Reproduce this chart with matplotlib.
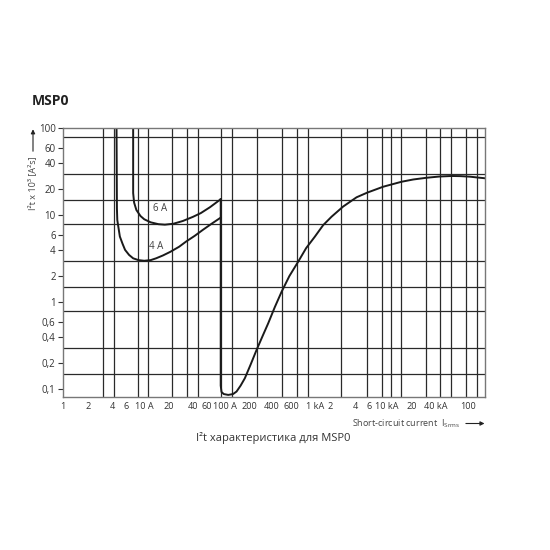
import matplotlib
matplotlib.use("Agg")
import matplotlib.pyplot as plt
from matplotlib.patches import FancyArrowPatch
from matplotlib.ticker import NullFormatter
from matplotlib.transforms import ScaledTranslation

# I2t let-through curves for MSP0
x_6a = [7.3, 7.3, 7.5, 8.0, 9.0, 10, 12, 15, 18, 23, 30, 40, 50, 65, 88]
y_6a = [100, 18, 14, 11.5, 9.8, 9.0, 8.3, 7.9, 7.8, 8.0, 8.6, 9.6, 10.6, 12.4, 15.3]

x_4a = [4.55, 4.6, 4.65, 5.0, 5.4, 5.8, 6.5, 7.3, 8.5, 10, 12, 14, 17, 21, 27, 33, 42, 53, 68, 88]
y_4a = [100, 12, 8.8, 5.7, 4.7, 4.0, 3.5, 3.2, 3.05, 3.0, 3.05, 3.2, 3.45, 3.8, 4.35, 5.0, 5.8, 6.8, 8.0, 9.4]

x_sc = [88, 88, 90, 96, 109, 125, 138, 155, 175, 205, 244, 290, 340, 410, 497, 620, 797,
        1000, 1280, 1620, 2060, 2860, 4190, 5660, 8930, 15070, 21000, 30600, 44000,
        62400, 80000, 105000, 130000, 165000]
y_sc = [15.3, 0.11, 0.093, 0.088, 0.086, 0.088, 0.094, 0.11, 0.134, 0.19, 0.283, 0.41,
        0.574, 0.88, 1.32, 2.0, 2.93, 4.2, 5.68, 7.7, 9.64, 12.6, 16.1, 18.2, 21.3, 24.3,
        25.8, 27.0, 27.9, 28.3, 28.2, 27.8, 27.2, 26.6]

x_ticks = [1, 2, 4, 6, 10, 20, 40, 60, 100, 200, 400, 600, 1000, 2000, 4000, 6000,
           10000, 20000, 40000, 100000]
x_labels = ["1", "2", "4", "6", "10 A", "20", "40", "60", "100 A", "200", "400", "600",
            "1 kA", "2", "4", "6", "10 kA", "20", "40 kA", "100"]
y_ticks = [0.1, 0.2, 0.4, 0.6, 1, 2, 4, 6, 10, 20, 40, 60, 100]
y_labels = ["0,1", "0,2", "0,4", "0,6", "1", "2", "4", "6", "10", "20", "40", "60", "100"]

x_grid = [3.1, 4.2, 8.4, 11, 22, 34, 46, 88, 122, 250, 500, 775, 1040, 2700, 5600, 8700,
          11300, 14800, 30000, 45000, 62000, 94000, 127000]
y_grid = [0.1, 0.15, 0.2, 0.3, 0.4, 0.6, 0.8, 1, 1.5, 2, 3, 4, 6, 8, 10, 15, 20, 30, 40,
          60, 80]

plt.rcParams["font.family"] = ["Open Sans", "DejaVu Sans"]

fig = plt.figure(figsize=(5.5, 5.5), dpi=100)
ax = fig.add_axes([0.115, 0.2787, 0.767, 0.488])
ax.set_xscale("log")
ax.set_yscale("log")
ax.set_xlim(1, 162000)
ax.set_ylim(0.082, 100)

ax.set_xticks(x_ticks)
ax.set_xticklabels(x_labels)
ax.set_xticks(x_grid, minor=True)
ax.set_yticks(y_ticks)
ax.set_yticklabels(y_labels)
ax.set_yticks(y_grid, minor=True)
ax.xaxis.set_minor_formatter(NullFormatter())
ax.yaxis.set_minor_formatter(NullFormatter())
ax.tick_params(axis="x", which="both", length=0, labelsize=6.6, colors="#333333", pad=4)
ax.tick_params(axis="y", which="major", length=3.5, width=0.8, labelsize=7,
               colors="#333333", pad=2)
ax.tick_params(axis="y", which="minor", length=0)
ax.grid(True, which="minor", color="#2a2a2a", lw=0.9)

# a few labels sit a little off their tick in the original
xlabels = ax.get_xticklabels()
xlabels[x_labels.index("1 kA")].set_horizontalalignment("left")
for lab, dx in (("400", -2), ("600", 3)):
    t = xlabels[x_labels.index(lab)]
    t.set_transform(t.get_transform() + ScaledTranslation(dx / 100, 0, fig.dpi_scale_trans))

for s in ax.spines.values():
    s.set_color("#777777")
    s.set_linewidth(1.0)

ax.plot(x_6a, y_6a, color="#1a1a1a", lw=1.4, solid_capstyle="round")
ax.plot(x_4a, y_4a, color="#1a1a1a", lw=1.4, solid_capstyle="round")
ax.plot(x_sc, y_sc, color="#1a1a1a", lw=1.4, solid_joinstyle="round")

ax.text(15.6, 12.0, "6 A", fontsize=7, color="#444444", ha="center", va="center")
ax.text(14.2, 4.43, "4 A", fontsize=7, color="#444444", ha="center", va="center")

# title and captions
fig.text(0.058, 0.816, "MSP0", fontsize=10, fontweight="bold", color="#222222",
         ha="left", va="center")
fig.text(0.06, 0.667, "I²t x 10³ [A²s]", rotation=90, fontsize=6.5, color="#444444",
         ha="center", va="center")
fig.add_artist(FancyArrowPatch(
    (0.06, 0.720), (0.06, 0.770), transform=fig.transFigure,
    arrowstyle="-|>", mutation_scale=6, color="#222222", lw=0.8))
fig.text(0.64, 0.230, "Short-circuit current  I$_{\\mathregular{Srms}}$", fontsize=6.5,
         color="#444444", ha="left", va="center")
fig.add_artist(FancyArrowPatch(
    (0.842, 0.230), (0.886, 0.230), transform=fig.transFigure,
    arrowstyle="-|>", mutation_scale=6, color="#222222", lw=0.8))
fig.text(0.497, 0.203, "I²t характеристика для MSP0", fontsize=8, color="#333333",
         ha="center", va="center")

fig.savefig("out.png", dpi=100)
